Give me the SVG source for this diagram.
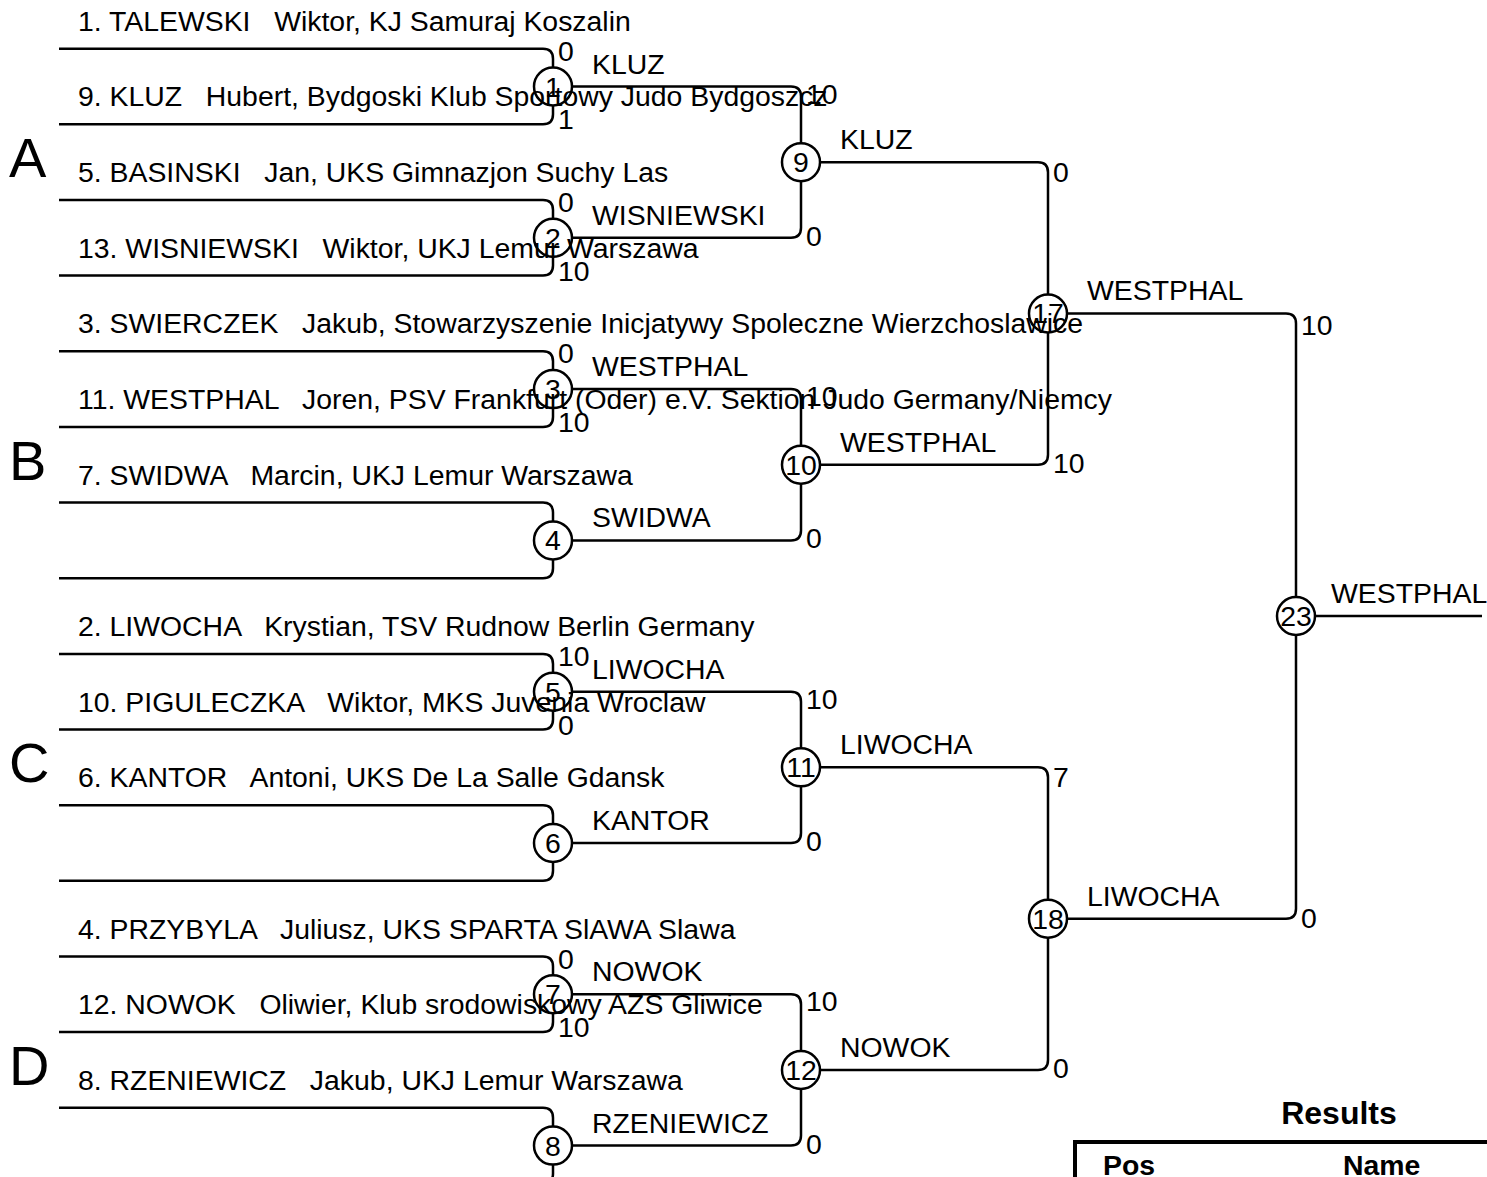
<svg xmlns="http://www.w3.org/2000/svg" width="1487" height="1177" viewBox="0 0 1487 1177">
<style>
text{font-family:"Liberation Sans",Arial,sans-serif;font-size:28.4px;fill:#000;white-space:pre}
.c{fill:none;stroke:#000;stroke-width:2.5}
.n{text-anchor:middle}
.big{font-size:56px}
.b{font-weight:bold}
path{fill:none;stroke:#000;stroke-width:2.5}
.tb{stroke-width:4}
</style>
<rect width="1487" height="1177" fill="#fff"/>
<g id="connectors">
<path d="M59,48.7 H543 Q553,48.7 553,58.7 V67.5"/>
<path d="M59,124.3 H543 Q553,124.3 553,114.3 V105.5"/>
<path d="M59,200 H543 Q553,200 553,210 V218.8"/>
<path d="M59,275.6 H543 Q553,275.6 553,265.6 V256.8"/>
<path d="M59,351.3 H543 Q553,351.3 553,361.3 V370.1"/>
<path d="M59,426.9 H543 Q553,426.9 553,416.9 V408.1"/>
<path d="M59,502.6 H543 Q553,502.6 553,512.6 V521.4"/>
<path d="M59,578.2 H543 Q553,578.2 553,568.2 V559.4"/>
<path d="M59,653.9 H543 Q553,653.9 553,663.9 V672.7"/>
<path d="M59,729.5 H543 Q553,729.5 553,719.5 V710.7"/>
<path d="M59,805.2 H543 Q553,805.2 553,815.2 V824"/>
<path d="M59,880.8 H543 Q553,880.8 553,870.8 V862"/>
<path d="M59,956.5 H543 Q553,956.5 553,966.5 V975.3"/>
<path d="M59,1032.1 H543 Q553,1032.1 553,1022.1 V1013.3"/>
<path d="M59,1107.8 H543 Q553,1107.8 553,1117.8 V1126.6"/>
<path d="M59,1183.4 H543 Q553,1183.4 553,1173.4 V1164.6"/>
<path d="M572,86.5 H791 Q801,86.5 801,96.5 V143.15"/>
<path d="M572,237.8 H791 Q801,237.8 801,227.8 V181.15"/>
<path d="M572,389.1 H791 Q801,389.1 801,399.1 V445.75"/>
<path d="M572,540.4 H791 Q801,540.4 801,530.4 V483.75"/>
<path d="M572,691.7 H791 Q801,691.7 801,701.7 V748.35"/>
<path d="M572,843 H791 Q801,843 801,833 V786.35"/>
<path d="M572,994.3 H791 Q801,994.3 801,1004.3 V1050.95"/>
<path d="M572,1145.6 H791 Q801,1145.6 801,1135.6 V1088.95"/>
<path d="M820,162.15 H1038 Q1048,162.15 1048,172.15 V294.45"/>
<path d="M820,464.75 H1038 Q1048,464.75 1048,454.75 V332.45"/>
<path d="M820,767.35 H1038 Q1048,767.35 1048,777.35 V899.65"/>
<path d="M820,1069.95 H1038 Q1048,1069.95 1048,1059.95 V937.65"/>
<path d="M1067,313.45 H1286 Q1296,313.45 1296,323.45 V597.05"/>
<path d="M1067,918.65 H1286 Q1296,918.65 1296,908.65 V635.05"/>
<path d="M1315,616.05 H1482"/>
</g>
<g id="entrants">
<text x="78" y="30.7">1. TALEWSKI   Wiktor, KJ Samuraj Koszalin</text>
<text x="78" y="106.3">9. KLUZ   Hubert, Bydgoski Klub Sportowy Judo Bydgoszcz</text>
<text x="78" y="182">5. BASINSKI   Jan, UKS Gimnazjon Suchy Las</text>
<text x="78" y="257.6">13. WISNIEWSKI   Wiktor, UKJ Lemur Warszawa</text>
<text x="78" y="333.3">3. SWIERCZEK   Jakub, Stowarzyszenie Inicjatywy Spoleczne Wierzchoslawice</text>
<text x="78" y="408.9">11. WESTPHAL   Joren, PSV Frankfurt (Oder) e.V. Sektion Judo Germany/Niemcy</text>
<text x="78" y="484.6">7. SWIDWA   Marcin, UKJ Lemur Warszawa</text>
<text x="78" y="635.9">2. LIWOCHA   Krystian, TSV Rudnow Berlin Germany</text>
<text x="78" y="711.5">10. PIGULECZKA   Wiktor, MKS Juvenia Wroclaw</text>
<text x="78" y="787.2">6. KANTOR   Antoni, UKS De La Salle Gdansk</text>
<text x="78" y="938.5">4. PRZYBYLA   Juliusz, UKS SPARTA SlAWA Slawa</text>
<text x="78" y="1014.1">12. NOWOK   Oliwier, Klub srodowiskowy AZS Gliwice</text>
<text x="78" y="1089.8">8. RZENIEWICZ   Jakub, UKJ Lemur Warszawa</text>
</g>
<g id="pools">
<text class="big" x="9" y="177">A</text>
<text class="big" x="9" y="479.75">B</text>
<text class="big" x="9" y="782.35">C</text>
<text class="big" x="9" y="1084.95">D</text>
</g>
<g id="m1"><circle class="c" cx="553" cy="86.5" r="19"/><text class="n" x="553" y="96.5">1</text><text x="592" y="73.5">KLUZ</text><text x="558" y="60.7">0</text><text x="558" y="129.3">1</text></g>
<g id="m2"><circle class="c" cx="553" cy="237.8" r="19"/><text class="n" x="553" y="247.8">2</text><text x="592" y="224.8">WISNIEWSKI</text><text x="558" y="212">0</text><text x="558" y="280.6">10</text></g>
<g id="m3"><circle class="c" cx="553" cy="389.1" r="19"/><text class="n" x="553" y="399.1">3</text><text x="592" y="376.1">WESTPHAL</text><text x="558" y="363.3">0</text><text x="558" y="431.9">10</text></g>
<g id="m4"><circle class="c" cx="553" cy="540.4" r="19"/><text class="n" x="553" y="550.4">4</text><text x="592" y="527.4">SWIDWA</text></g>
<g id="m5"><circle class="c" cx="553" cy="691.7" r="19"/><text class="n" x="553" y="701.7">5</text><text x="592" y="678.7">LIWOCHA</text><text x="558" y="665.9">10</text><text x="558" y="734.5">0</text></g>
<g id="m6"><circle class="c" cx="553" cy="843" r="19"/><text class="n" x="553" y="853">6</text><text x="592" y="830">KANTOR</text></g>
<g id="m7"><circle class="c" cx="553" cy="994.3" r="19"/><text class="n" x="553" y="1004.3">7</text><text x="592" y="981.3">NOWOK</text><text x="558" y="968.5">0</text><text x="558" y="1037.1">10</text></g>
<g id="m8"><circle class="c" cx="553" cy="1145.6" r="19"/><text class="n" x="553" y="1155.6">8</text><text x="592" y="1132.6">RZENIEWICZ</text></g>
<g id="m9"><circle class="c" cx="801" cy="162.15" r="19"/><text class="n" x="801" y="172.15">9</text><text x="840" y="149.15">KLUZ</text><text x="806" y="103.5">10</text><text x="806" y="245.8">0</text></g>
<g id="m10"><circle class="c" cx="801" cy="464.75" r="19"/><text class="n" x="801" y="474.75">10</text><text x="840" y="451.75">WESTPHAL</text><text x="806" y="406.1">10</text><text x="806" y="548.4">0</text></g>
<g id="m11"><circle class="c" cx="801" cy="767.35" r="19"/><text class="n" x="801" y="777.35">11</text><text x="840" y="754.35">LIWOCHA</text><text x="806" y="708.7">10</text><text x="806" y="851">0</text></g>
<g id="m12"><circle class="c" cx="801" cy="1069.95" r="19"/><text class="n" x="801" y="1079.95">12</text><text x="840" y="1056.95">NOWOK</text><text x="806" y="1011.3">10</text><text x="806" y="1153.6">0</text></g>
<g id="m17"><circle class="c" cx="1048" cy="313.45" r="19"/><text class="n" x="1048" y="323.45">17</text><text x="1087" y="300.45">WESTPHAL</text><text x="1053" y="182.15">0</text><text x="1053" y="472.75">10</text></g>
<g id="m18"><circle class="c" cx="1048" cy="918.65" r="19"/><text class="n" x="1048" y="928.65">18</text><text x="1087" y="905.65">LIWOCHA</text><text x="1053" y="787.35">7</text><text x="1053" y="1077.95">0</text></g>
<g id="m23"><circle class="c" cx="1296" cy="616.05" r="19"/><text class="n" x="1296" y="626.05">23</text><text x="1331" y="603.05">WESTPHAL</text><text x="1301" y="335.45">10</text><text x="1301" y="927.65">0</text></g>
<g id="results">
<text class="b n" x="1339" y="1124" style="font-size:32px">Results</text>
<path class="tb" d="M1075,1177 V1142 H1487"/>
<text class="b" x="1103" y="1175">Pos</text>
<text class="b" x="1343" y="1175">Name</text>
</g>
</svg>
